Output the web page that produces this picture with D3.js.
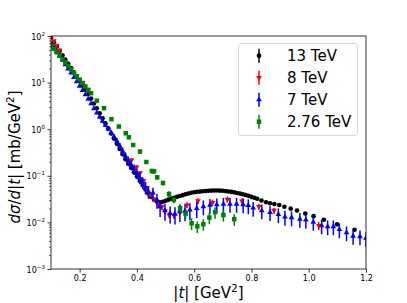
<!DOCTYPE html>
<html>
<head>
<meta charset="utf-8">
<script src="https://cdn.jsdelivr.net/npm/d3@7"></script>
<style>
  body { margin: 0; background: #fff; }
  svg { font-family: "DejaVu Sans", sans-serif; }
</style>
</head>
<body>
<svg id="chart" width="407" height="303"></svg>
<script>
// 13 TeV
const t13 = [0.10,0.11,0.12,0.13,0.14,0.15,0.16,0.17,0.18,0.19,0.20,0.21,0.22,0.23,0.24,0.25,0.26,0.27,0.28,0.29,
  0.30,0.31,0.32,0.33,0.34,0.35,0.36,0.37,0.38,0.39,0.40,0.41,0.42,0.43,0.44,0.45,0.46,0.47,0.48,0.49,
  0.50,0.51,0.52,0.53,0.54,0.55,0.56,0.57,0.58,0.59,0.60,0.61,0.62,0.63,0.64,0.65,0.66,0.67,0.68,0.69,
  0.70,0.71,0.72,0.73,0.74,0.75,0.76,0.77,0.78,0.79,0.80,0.81,0.82,
  0.835,0.851,0.865,0.880,0.897,0.915,0.937,0.959,0.988,1.017,1.053,1.099,1.160];
const sig13 = [90.6,73.3,59.5,47.9,38.7,31.3,25.3,20.6,16.6,13.4,10.8,8.75,7.04,5.69,4.54,3.56,2.81,2.20,1.71,1.34,
  1.045,0.809,0.629,0.486,0.376,0.291,0.227,0.182,0.147,0.119,0.0966,0.0781,0.0635,0.0508,0.0417,0.0351,0.0305,0.0281,0.0270,0.0277,
  0.0291,0.0307,0.0323,0.0338,0.0353,0.0369,0.0384,0.0401,0.0417,0.0432,0.0443,0.0452,0.0458,0.0465,0.0472,0.0477,0.0481,0.0484,0.0484,0.0481,
  0.0477,0.0470,0.0461,0.0452,0.0441,0.0428,0.0415,0.0401,0.0387,0.0371,0.0354,0.0338,0.0321,
  0.0295,0.0270,0.0257,0.0248,0.0236,0.0217,0.0197,0.0180,0.0155,0.0136,0.0114,0.0091,0.00697];

// 8 TeV
const t8 = [0.10,0.11,0.12,0.13,0.15,0.17,0.19,0.21,0.23,
  0.381,0.399,0.411,0.423,0.435,0.447,0.460,0.475,0.487,0.498,0.513,0.529,0.550,0.575,0.613,0.664,0.716,0.767,0.826,0.879,1.035];
const sig8 = [97,79,63,50,26.9,19.2,13.7,9.8,7.0,
  0.218,0.154,0.115,0.0792,0.0547,0.0397,0.0310,0.0236,0.0214,0.0176,0.0144,0.0141,0.0167,0.0236,0.0288,0.0267,0.0313,0.0285,0.0219,0.0180,0.00849];
const err8 = [0.03,0.03,0.03,0.03,0.03,0.03,0.03,0.03,0.03,
  0.1,0.1,0.1,0.1,0.1,0.12,0.12,0.15,0.15,0.15,0.15,0.15,0.15,0.15,0.15,0.15,0.15,0.15,0.15,0.15,0.2];

// 7 TeV
const t7 = [0.10,0.11,0.12,0.13,0.14,0.15,0.16,0.17,0.18,0.19,0.20,0.21,0.22,0.23,0.24,0.25,0.26,0.27,0.28,0.29,
  0.30,0.31,0.32,0.33,0.34,0.35,0.36,0.37,0.38,0.39,0.40,0.41,0.42,0.43,0.44,
  0.456,0.470,0.481,0.498,0.516,0.533,0.550,0.568,0.585,0.609,0.632,0.655,0.679,0.702,0.725,0.748,0.771,0.789,0.806,0.836,
  0.865,0.894,0.917,0.940,0.969,0.990,1.016,1.045,1.066,1.086,1.107,1.132,1.155,1.179,1.200];
const sig7 = [67,57,46.4,37.4,30.2,24.4,19.7,16.1,12.9,10.5,8.4,6.8,5.5,4.44,3.54,2.78,2.25,1.83,1.49,1.23,
  1.01,0.833,0.69,0.56,0.44,0.34,0.266,0.213,0.172,0.139,0.113,0.0914,0.073,0.057,0.046,
  0.0428,0.0303,0.0217,0.0180,0.0157,0.0151,0.0170,0.0176,0.0185,0.0201,0.0219,0.0236,0.0242,0.0248,0.0248,0.0248,0.0242,0.0231,0.0204,0.0180,
  0.0165,0.0148,0.0131,0.0127,0.0118,0.0113,0.0102,0.00858,0.00817,0.00817,0.00705,0.00607,0.00510,0.00498,0.00462];
const err7 = [0.03,0.03,0.03,0.03,0.03,0.03,0.03,0.03,0.03,0.03,0.03,0.03,0.03,0.03,0.03,0.06,0.06,0.08,0.08,0.1,
  0.1,0.12,0.12,0.15,0.15,0.2,0.2,0.22,0.22,0.25,0.25,0.28,0.28,0.3,0.3,
  0.3,0.35,0.4,0.4,0.4,0.4,0.4,0.4,0.4,0.38,0.35,0.35,0.35,0.35,0.35,0.35,0.35,0.35,0.35,0.35,
  0.35,0.35,0.35,0.35,0.35,0.35,0.35,0.35,0.35,0.35,0.35,0.35,0.35,0.35,0.35];

// 2.76 TeV
const t276 = [0.10,0.11,0.12,0.13,0.14,0.15,0.16,0.17,0.18,0.19,0.20,0.21,0.22,0.23,0.24,
  0.260,0.285,0.311,0.337,0.361,0.372,0.387,0.411,0.433,0.452,0.460,0.471,0.491,0.512,0.529,
  0.551,0.570,0.591,0.611,0.632,0.653,0.673,0.702,0.740];
const sig276 = [62.5,52.9,44.7,37.8,31.9,26.9,22.7,19.2,16.2,13.7,11.6,9.80,8.29,7.01,5.93,
  4.09,2.82,1.64,1.14,0.817,0.670,0.458,0.332,0.198,0.127,0.125,0.0929,0.070,0.0407,0.0303,
  0.0201,0.0154,0.00957,0.00824,0.00915,0.0127,0.0166,0.0144,0.0117];
const err276 = [0.05,0.05,0.05,0.05,0.05,0.05,0.05,0.05,0.05,0.05,0.05,0.05,0.05,0.05,0.05,
  0.08,0.08,0.08,0.08,0.08,0.08,0.08,0.1,0.1,0.12,0.12,0.12,0.12,0.15,0.15,
  0.2,0.25,0.28,0.28,0.28,0.28,0.28,0.28,0.28];

const xTicks = [0.2, 0.4, 0.6, 0.8, 1.0, 1.2];
const yTicks = [1e-3, 1e-2, 1e-1, 1e0, 1e1, 1e2];
const yTickExp = ["\u22123", "\u22122", "\u22121", "0", "1", "2"];
const legendLabels = ["13 TeV", "8 TeV", "7 TeV", "2.76 TeV"];

// plot box
const pLeft = 51, pRight = 366, pTop = 36, pBottom = 269;

const svg = d3.select("#chart");

const x = d3.scaleLinear().domain([0.1, 1.2]).range([pLeft, pRight]);
const y = d3.scaleLog().domain([1e-3, 1e2]).range([pBottom, pTop]);

svg.append("defs").append("clipPath").attr("id", "clip")
  .append("rect").attr("x", pLeft).attr("y", pTop).attr("width", pRight - pLeft).attr("height", pBottom - pTop);

// x axis
const xAxis = svg.append("g")
  .attr("transform", `translate(0,${pBottom})`)
  .call(d3.axisBottom(x).tickValues(xTicks).tickFormat(d3.format(".1f")).tickSize(3.5).tickPadding(3));
xAxis.select(".domain").remove();
xAxis.selectAll("text").style("font-size", "8px").style("font-family", "DejaVu Sans").attr("fill", "#000");
xAxis.selectAll("line").attr("stroke", "#000").attr("stroke-width", 0.8);

// y axis, minor ticks
const minor = [];
yTicks.slice(0, -1).forEach(b => { for (let m = 2; m <= 9; m++) minor.push(b * m); });
const yMinor = svg.append("g")
  .attr("transform", `translate(${pLeft},0)`)
  .call(d3.axisLeft(y).tickValues(minor).tickFormat("").tickSize(2));
yMinor.select(".domain").remove();
yMinor.selectAll("line").attr("stroke", "#000").attr("stroke-width", 0.6);

// y axis, major ticks
const yMajor = svg.append("g")
  .attr("transform", `translate(${pLeft},0)`)
  .call(d3.axisLeft(y).tickValues(yTicks).tickFormat("").tickSize(3.5));
yMajor.select(".domain").remove();
yMajor.selectAll("line").attr("stroke", "#000").attr("stroke-width", 0.8);

yTicks.forEach((v, i) => {
  const t = svg.append("text")
    .attr("x", pLeft - 6)
    .attr("y", y(v) + 3.5)
    .attr("text-anchor", "end")
    .style("font-size", "8px");
  t.append("tspan").text("10");
  t.append("tspan").attr("dy", -4).style("font-size", "5.6px").text(yTickExp[i]);
});

// series
const plot = svg.append("g").attr("clip-path", "url(#clip)");

function drawSeries(ts, vs, errs, color, symbol, size, rotate) {
  const g = plot.append("g");
  if (errs) {
    g.selectAll("line").data(ts).join("line")
      .attr("x1", d => x(d)).attr("x2", d => x(d))
      .attr("y1", (d, i) => y(vs[i] * (1 + errs[i])))
      .attr("y2", (d, i) => y(Math.max(vs[i] * (1 - errs[i]), 1e-4)))
      .attr("stroke", color).attr("stroke-width", 1.5);
  }
  g.selectAll("path").data(ts).join("path")
    .attr("d", d3.symbol().type(symbol).size(size))
    .attr("transform", (d, i) => `translate(${x(d)},${y(vs[i])})${rotate ? " rotate(180)" : ""}`)
    .attr("fill", color);
}

drawSeries(t13, sig13, null, "#000000", d3.symbolCircle, 17, false);
drawSeries(t8, sig8, err8, "#ff0000", d3.symbolTriangle, 14, true);
drawSeries(t7, sig7, err7, "#0000ff", d3.symbolTriangle, 14, false);
drawSeries(t276, sig276, err276, "#008000", d3.symbolSquare, 20, false);

// frame
svg.append("rect")
  .attr("x", pLeft).attr("y", pTop).attr("width", pRight - pLeft).attr("height", pBottom - pTop)
  .attr("fill", "none").attr("stroke", "#000").attr("stroke-width", 0.8);

// legend
const lg = svg.append("g");
lg.append("rect")
  .attr("x", 238.5).attr("y", 43.5).attr("width", 119).attr("height", 92).attr("rx", 3)
  .attr("fill", "#fff").attr("fill-opacity", 0.8).attr("stroke", "#cccccc").attr("stroke-width", 0.8);
const legColors = ["#000000", "#ff0000", "#0000ff", "#008000"];
const legSymbols = [d3.symbolCircle, d3.symbolTriangle, d3.symbolTriangle, d3.symbolSquare];
const legSizes = [17, 14, 14, 20];
legendLabels.forEach((lab, i) => {
  const cy = 55.7 + i * 22;
  lg.append("line").attr("x1", 259).attr("x2", 259).attr("y1", cy - 7).attr("y2", cy + 7)
    .attr("stroke", legColors[i]).attr("stroke-width", 1.5);
  lg.append("path").attr("d", d3.symbol().type(legSymbols[i]).size(legSizes[i]))
    .attr("transform", `translate(259,${cy})${i === 1 ? " rotate(180)" : ""}`)
    .attr("fill", legColors[i]);
  lg.append("text").attr("x", 287).attr("y", cy + 5.5).style("font-size", "15px").text(lab);
});

// axis labels
const xl = svg.append("text").attr("x", 208.5).attr("y", 298).attr("text-anchor", "middle").style("font-size", "15px");
xl.append("tspan").text("|");
xl.append("tspan").style("font-style", "italic").text("t");
xl.append("tspan").text("| [GeV");
xl.append("tspan").attr("dy", -6).style("font-size", "10.5px").text("2");
xl.append("tspan").attr("dy", 6).text("]");

const yl = svg.append("text").attr("transform", "translate(20,157) rotate(-90)").attr("text-anchor", "middle").style("font-size", "15px");
yl.append("tspan").style("font-style", "italic").text("d\u03c3");
yl.append("tspan").text("/");
yl.append("tspan").style("font-style", "italic").text("d");
yl.append("tspan").text("|");
yl.append("tspan").style("font-style", "italic").text("t");
yl.append("tspan").text("| [mb/GeV");
yl.append("tspan").attr("dy", -6).style("font-size", "10.5px").text("2");
yl.append("tspan").attr("dy", 6).text("]");
</script>
</body>
</html>
